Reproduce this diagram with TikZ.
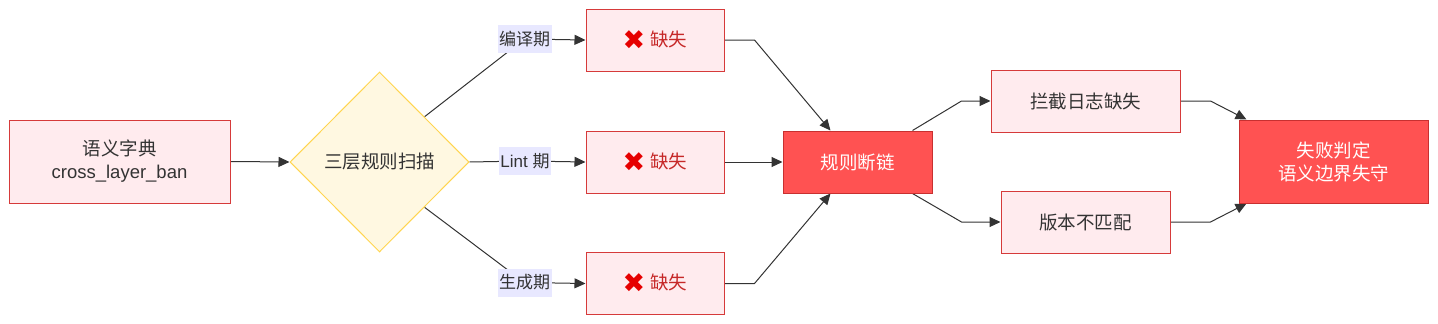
\documentclass[tikz,border=0pt]{standalone}
\usepackage{fontspec}
\setmainfont{Liberation Sans}
\newfontfamily\cjk{Noto Sans CJK SC}
\newfontfamily\symf{DejaVu Sans}
\usetikzlibrary{shapes.geometric,arrows.meta,calc,backgrounds}
\definecolor{pinkfill}{HTML}{FFEBEE}
\definecolor{pinkdraw}{HTML}{D63A3A}
\definecolor{redfill}{HTML}{FF5252}
\definecolor{reddraw}{HTML}{C83030}
\definecolor{yelfill}{HTML}{FFF8E1}
\definecolor{yeldraw}{HTML}{FFD54F}
\definecolor{lblbg}{HTML}{E8E8FF}
\definecolor{txt}{HTML}{333333}
\definecolor{misstxt}{HTML}{C62828}
\definecolor{xred}{HTML}{E60000}
\definecolor{edge}{HTML}{333333}
\newcommand{\misstext}{\raisebox{-3pt}{\symf\fontsize{27}{27}\selectfont\color{xred}✖}\hspace{5pt}{\cjk\color{misstxt}缺失}}
\begin{document}
\begin{tikzpicture}[x=1pt,y=-1pt,
  base/.style={inner sep=0pt,align=center,font=\fontsize{18.5}{23}\selectfont,text=txt},
  pinkbox/.style={base,rectangle,draw=pinkdraw,fill=pinkfill,line width=1pt},
  redbox/.style={base,rectangle,draw=reddraw,fill=redfill,line width=1pt,text=white},
  decide/.style={base,diamond,draw=yeldraw,fill=yelfill,line width=1pt,minimum width=179pt,minimum height=180pt},
  elabel/.style={base,rectangle,fill=lblbg,inner xsep=1.5pt,minimum height=28pt,font=\fontsize{17}{20}\selectfont},
  arr/.style={draw=edge,line width=1pt,-{Triangle[length=11pt,width=10pt]}}
]
\useasboundingbox (0,0) rectangle (1438,324);

\node[pinkbox,minimum width=221pt,minimum height=83pt] (a) at (119.5,161.5) {{\cjk 语义字典}\\cross\_layer\_ban};
\node[decide] (d) at (379.5,162) {\cjk 三层规则扫描};

\node[pinkbox,minimum width=138pt,minimum height=62pt] (m1) at (655,40) {\misstext};
\node[pinkbox,minimum width=138pt,minimum height=62pt] (m2) at (655,162) {\misstext};
\node[pinkbox,minimum width=138pt,minimum height=62pt] (m3) at (655,283.5) {\misstext};

\node[redbox,minimum width=149pt,minimum height=62pt] (r) at (857.5,162) {\cjk 规则断链};

\node[pinkbox,minimum width=189pt,minimum height=62pt] (k) at (1085.5,101) {\cjk 拦截日志缺失};
\node[pinkbox,minimum width=169pt,minimum height=62pt] (v) at (1085.5,222) {\cjk 版本不匹配};

\node[redbox,minimum width=189pt,minimum height=83pt] (f) at (1333.5,161.5) {{\cjk 失败判定}\\{\cjk 语义边界失守}};

\node[elabel] (l1) at (524.5,39) {\cjk 编译期};
\node[elabel] (l2) at (525,161) {Lint {\cjk 期}};
\node[elabel] (l3) at (524.5,282.5) {\cjk 生成期};

\begin{scope}[on background layer]
\draw[arr] (a.east) -- (d.west);
\draw[arr] (d.north east) -- (l1.center) -- (m1.west);
\draw[arr] (d.east) -- (l2.center) -- (m2.west);
\draw[arr] (d.south east) -- (l3.center) -- (m3.west);
\draw[arr] (m1.east) -- ++(30,0) -- ($(r.north west)+(48,0)$);
\draw[arr] (m2.east) -- (r.west);
\draw[arr] (m3.east) -- ++(30,0) -- ($(r.south west)+(48,0)$);
\draw[arr] ($(r.north east)+(-20,0)$) -- ($(k.west)+(-29,0)$) -- (k.west);
\draw[arr] ($(r.south east)+(-20,0)$) -- ($(v.west)+(-39,0)$) -- (v.west);
\draw[arr] (k.east) -- ++(30,0) -- ($(f.north west)+(8,0)$);
\draw[arr] (v.east) -- ++(40,0) -- ($(f.south west)+(8,0)$);
\end{scope}
\end{tikzpicture}
\end{document}
